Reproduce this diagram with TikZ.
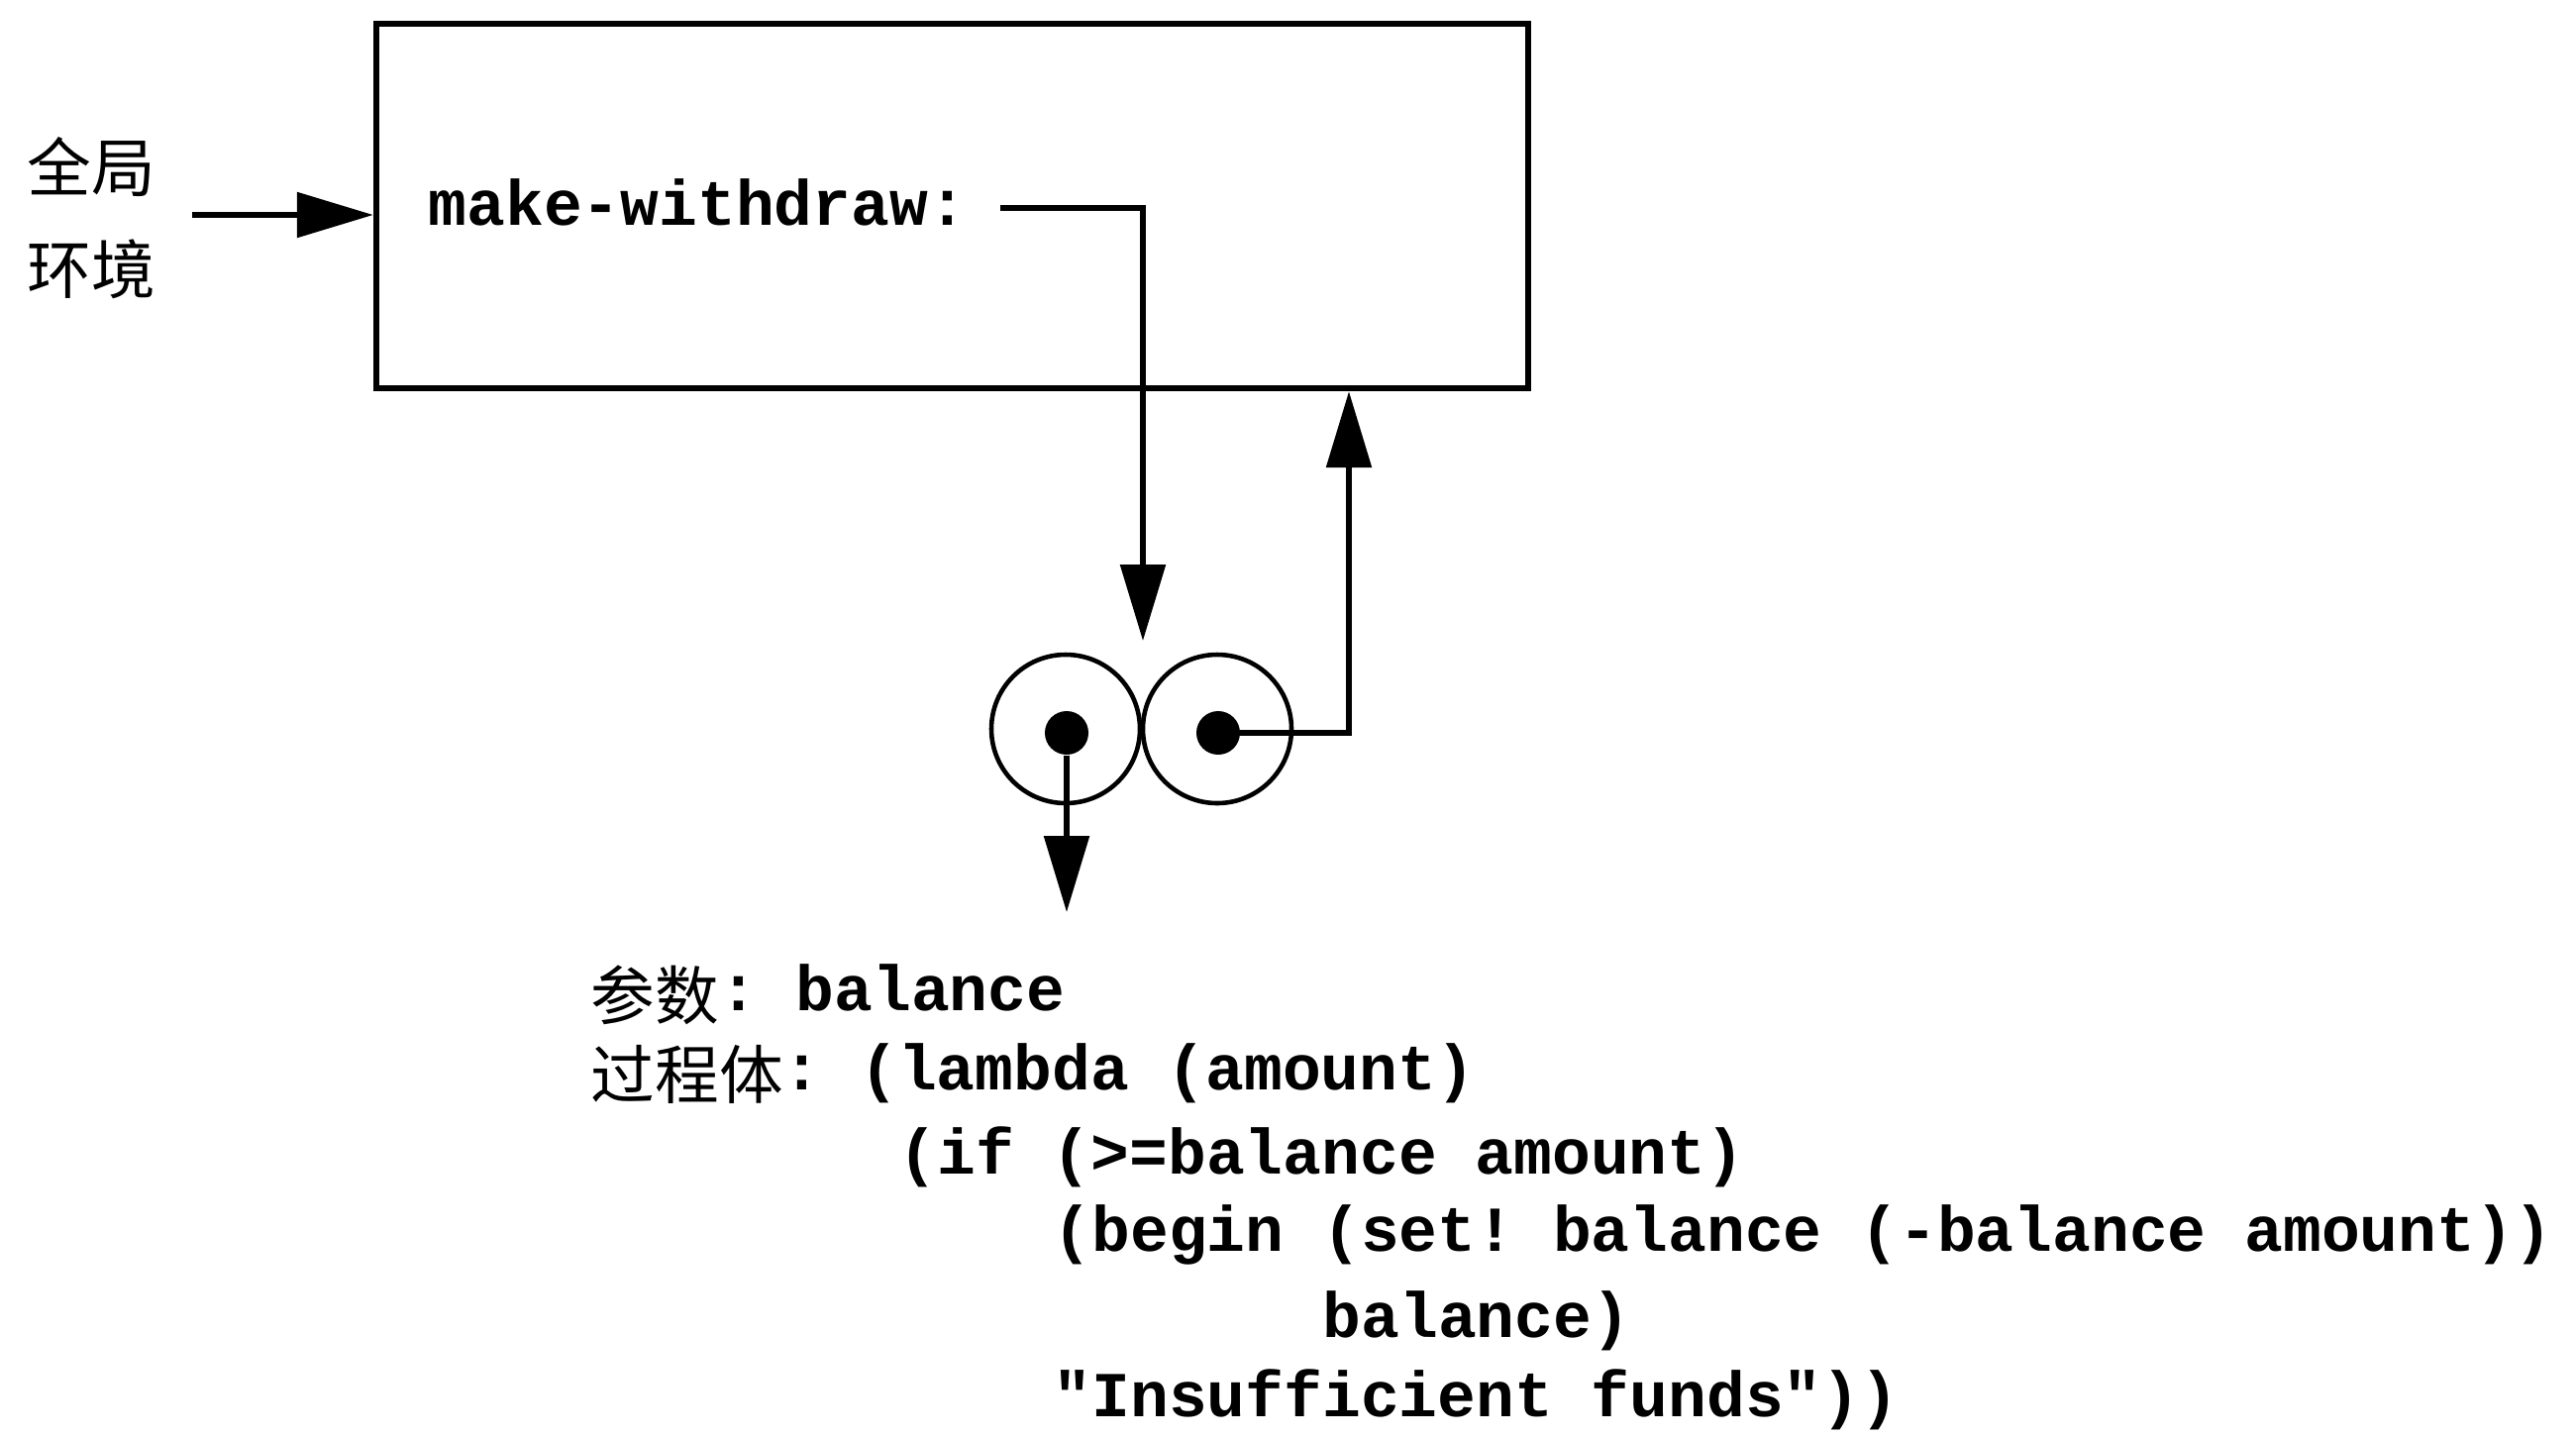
\documentclass[tikz,border=0pt]{standalone}
\usepackage{fontspec}
\setmonofont{Liberation Mono}
\newfontfamily\cjk{Noto Sans CJK SC}
\usetikzlibrary{arrows.meta}

\newcommand{\zh}[1]{{\cjk\mdseries\raisebox{-0.15em}{#1}}}
\newcommand{\codefont}{\fontsize{18.4pt}{22pt}\selectfont\ttfamily\bfseries}

\tikzset{
  ptr/.style={-{Triangle[length=7.7mm,width=4.5mm]},line width=1.6pt},
  code/.style={anchor=base west,inner sep=0pt,font=\codefont},
  cell/.style={circle,draw,line width=1.3pt,minimum size=1.5cm,inner sep=0pt},
  dot/.style={circle,fill,minimum size=0.44cm,inner sep=0pt}
}

\begin{document}
\begin{tikzpicture}

\useasboundingbox (0,0) rectangle (26.01,-14.51);

% environment frame
\node[draw,line width=1.8pt,minimum width=11.63cm,minimum height=3.68cm,inner sep=0pt]
  (env) at (9.615,-2.08) {};
\node[font=\fontsize{18.4pt}{22pt}\selectfont\cjk] (glob1) at (0.92,-1.69) {全局};
\node[font=\fontsize{18.4pt}{22pt}\selectfont\cjk] (glob2) at (0.92,-2.72) {环境};
\coordinate (genv) at (1.94,-2.17);
\draw[ptr] (genv) -- (genv -| env.west);

\node[code] (mw) at (4.32,-2.27) {make-withdraw:};

% procedure object
\node[cell] (car) at (10.76,-7.36) {};
\node[cell] (cdr) at (12.29,-7.36) {};
\node[dot] (cardot) at (10.77,-7.40) {};
\node[dot] (cdrdot) at (12.30,-7.40) {};

\coordinate (mwout) at (10.10,-2.10);
\coordinate (pairtop) at (11.54,-6.47);
\coordinate (parm) at (10.77,-9.21);
\draw[ptr] (mwout) -| (pairtop);
\draw[ptr] (cdrdot.center) -| ([xshift=4.005cm]env.south);
\draw[ptr] (cardot) -- (parm);

% parameters and body
\node[code] (params)    at (5.96,-10.20)  {\zh{参数}: balance};
\node[code] (body)      at (5.96,-11.00)  {\zh{过程体}: (lambda (amount)};
\node[code] (ifline)    at (9.07,-11.85)  {(if (>=balance amount)};
\node[code] (beginline) at (10.63,-12.63) {(begin (set! balance (-balance amount))};
\node[code] (balline)   at (13.35,-13.50) {balance)};
\node[code] (elseline)  at (10.63,-14.30) {"Insufficient funds"))};

\end{tikzpicture}
\end{document}
